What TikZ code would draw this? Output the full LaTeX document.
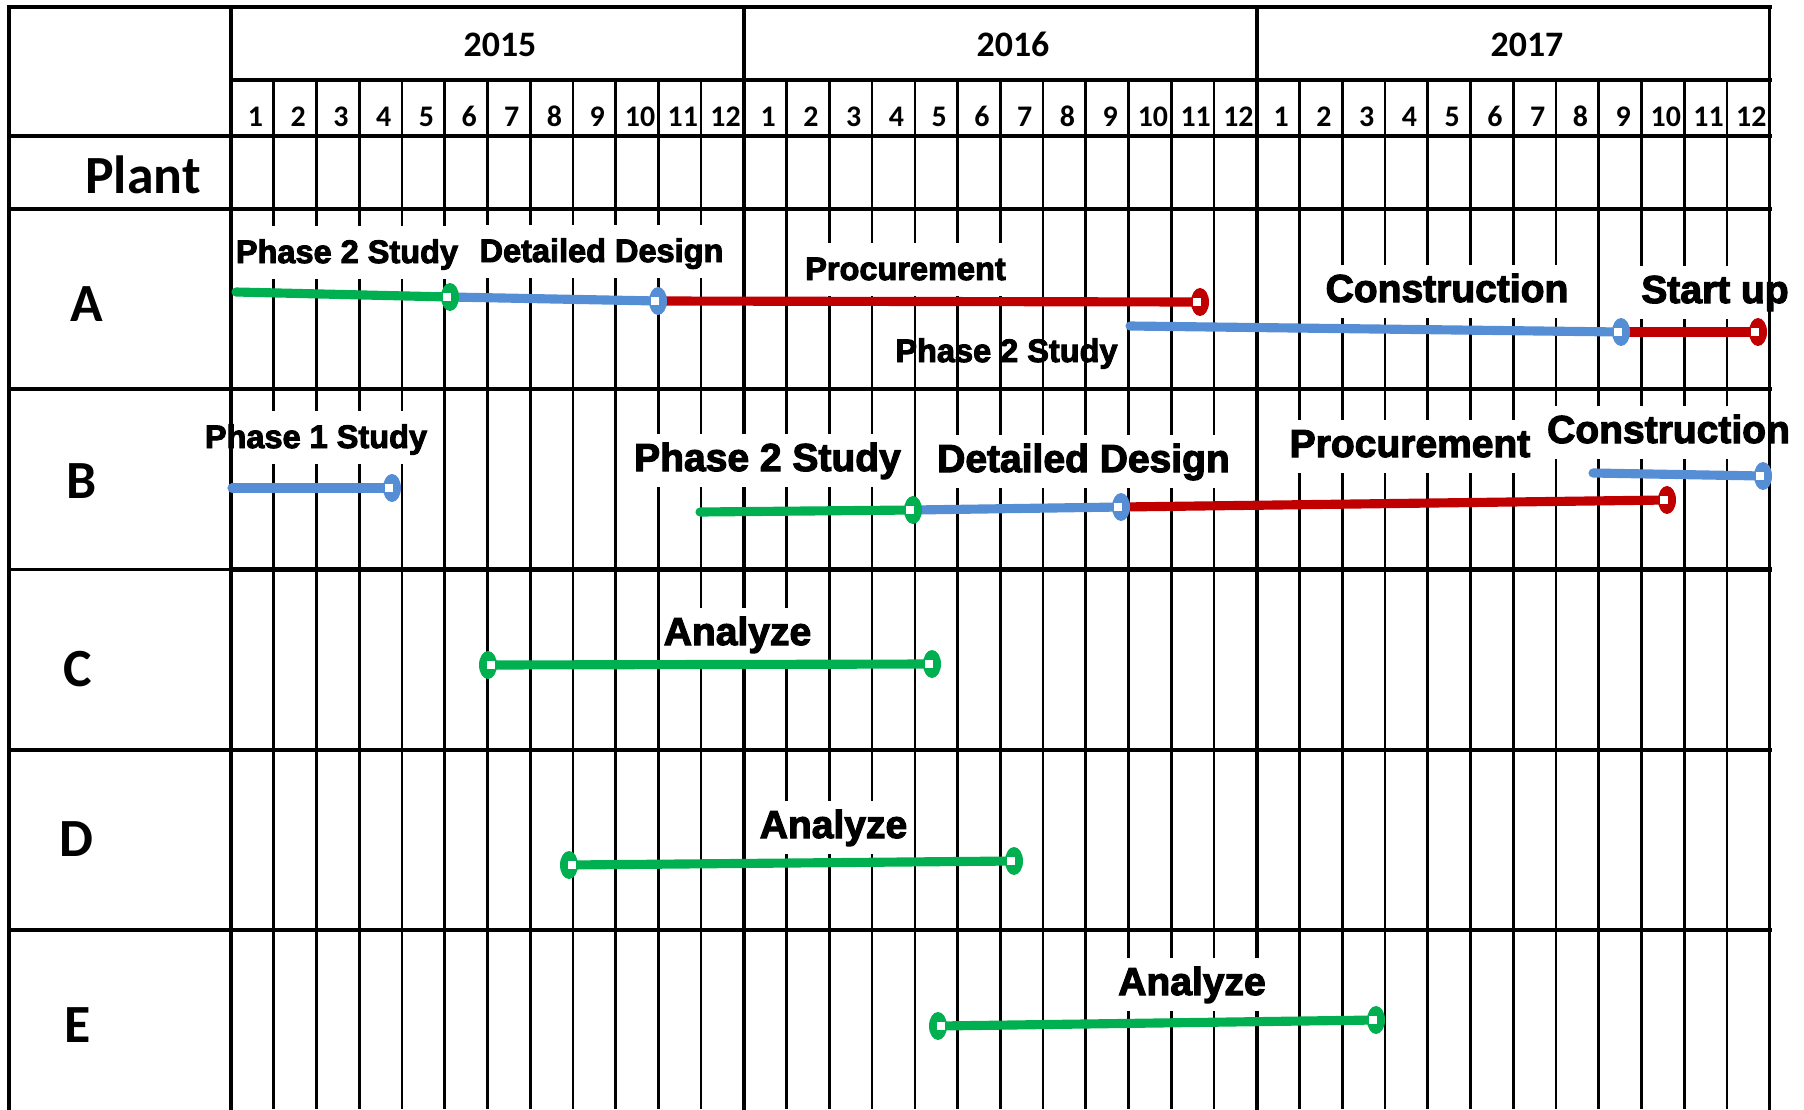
\documentclass[tikz,border=0pt]{standalone}
\usepackage{fontspec}
\setmainfont{Carlito}
\newfontfamily\taskfont{Liberation Sans}[BoldFeatures={FakeBold=3}]
\definecolor{BarGreen}{HTML}{00B050}
\definecolor{BarBlue}{HTML}{558ED5}
\definecolor{BarRed}{HTML}{C00000}

\tikzset{
  monthline/.style={line width=1.5pt},
  rowline/.style={line width=2.3pt, line cap=rect},
  frameline/.style={line width=2pt, line cap=rect},
  yearlabel/.style={font=\bfseries\fontsize{20.4}{22}\selectfont, anchor=base, inner sep=0pt},
  monthlabel/.style={font=\bfseries\fontsize{17}{18}\selectfont, anchor=base, inner sep=0pt},
  plantlabel/.style={font=\bfseries\fontsize{30.6}{32}\selectfont, anchor=base, inner sep=0pt},
  task/.style={font=\taskfont\bfseries\fontsize{18.5}{20}\selectfont, anchor=base,
    fill=white, inner xsep=1pt, inner ysep=4pt, text height=17pt, text depth=5pt},
  bigtask/.style={task, font=\taskfont\bfseries\fontsize{22.2}{24}\selectfont},
  bar/.style={line width=5.2pt, line cap=round},
  mile/.pic={
    \fill (0,0) ellipse [x radius=9, y radius=14];
    \fill[white] (-7,-4) rectangle (1,4);
  }
}

\begin{document}
\begin{tikzpicture}[x=0.02cm, y=-0.02cm]
  \useasboundingbox (0,0) rectangle (1804,1109);

  % Month columns
  \foreach \m in {1,...,35}
    \draw[monthline] ({231+42.74*\m},80) -- ({231+42.74*\m},1109);

  % Rows
  \draw[rowline] (9,7) -- (1769.6,7);
  \draw[rowline] (231,80) -- (1769.6,80);
  \draw[rowline] (9,136) -- (1769.6,136);
  \foreach \y in {209,389,569.5,750,930} {
    \draw[frameline] (9,\y) -- (231,\y);
    \draw[rowline] (231,\y) -- (1769.6,\y);
  }

  % Year columns
  \foreach \m in {12,24}
    \draw[frameline] ({231+42.74*\m},7) -- ({231+42.74*\m},1109);

  % Header
  \node[yearlabel] (y2015) at (500,56) {2015};
  \node[yearlabel] (y2016) at (1013,56) {2016};
  \node[yearlabel] (y2017) at (1527,56) {2017};
  \foreach \yr in {0,1,2}
    \foreach \m in {1,...,12}
      \node[monthlabel] (m\yr-\m) at ({231+42.74*(12*\yr+\m-0.5)+3},126) {\m};

  % Plants
  \node[plantlabel] (plant) at (143,193) {Plant};
  \node[plantlabel] (rowA) at (87,321) {A};
  \node[plantlabel] (rowB) at (81.5,498) {B};
  \node[plantlabel] (rowC) at (77.5,686) {C};
  \node[plantlabel] (rowD) at (76,856) {D};
  \node[plantlabel] (rowE) at (78,1042) {E};

  % Task labels
  \node[task] (tA1) at (347,263) {Phase 2 Study};
  \node[task] (tA2) at (601.5,262) {Detailed Design};
  \node[task] (tA3) at (905.5,280) {Procurement};
  \node[task, fill=none] (tA4) at (1006.5,362) {Phase 2 Study};
  \node[bigtask] (tA5) at (1447,302) {Construction};
  \node[bigtask] (tA6) at (1715,303) {Start up};
  \node[task] (tB1) at (316,448) {Phase 1 Study};
  \node[bigtask] (tB2) at (767.5,471) {Phase 2 Study};
  \node[bigtask] (tB3) at (1083.5,472) {Detailed Design};
  \node[bigtask] (tB4) at (1410,457) {Procurement};
  \node[bigtask] (tB5) at (1668.5,443) {Construction};
  \node[bigtask] (tC) at (737.5,645) {Analyze};
  \node[bigtask] (tD) at (833.5,838) {Analyze};
  \node[bigtask] (tE) at (1192,995) {Analyze};

  % Frame on top
  \draw[frameline] (9,7) -- (9,1109);
  \draw[frameline] (231,7) -- (231,1109);
  \draw[frameline] (1769.6,7) -- (1769.6,1109);

  % Milestones
  \coordinate (a0) at (236,292);
  \coordinate (a1) at (450,297);
  \coordinate (a2) at (658,301);
  \coordinate (a3) at (1200,302);
  \coordinate (a4) at (1130,326);
  \coordinate (a5) at (1621,332);
  \coordinate (a6) at (1758,332);
  \coordinate (b0) at (232,488);
  \coordinate (b1) at (392,488);
  \coordinate (b2) at (700,512);
  \coordinate (b3) at (913,510);
  \coordinate (b4) at (1121,507);
  \coordinate (b5) at (1667,500);
  \coordinate (b6) at (1593,473);
  \coordinate (b7) at (1763,476);
  \coordinate (c0) at (488,665);
  \coordinate (c1) at (932,664);
  \coordinate (d0) at (569,865);
  \coordinate (d1) at (1014,861);
  \coordinate (e0) at (938,1026);
  \coordinate (e1) at (1376,1020);

  % Bars
  \draw[bar, BarGreen] (a0) -- (a1);
  \draw[bar, BarBlue] (a1) -- (a2);
  \draw[bar, BarRed] (a2) -- (a3);
  \draw[bar, BarBlue] (a4) -- (a5);
  \draw[bar, BarRed] (a5) -- (a6);
  \draw[bar, BarBlue] (b0) -- (b1);
  \draw[bar, BarGreen] (b2) -- (b3);
  \draw[bar, BarBlue] (b3) -- (b4);
  \draw[bar, BarRed] (b4) -- (b5);
  \draw[bar, BarBlue] (b6) -- (b7);
  \draw[bar, BarGreen] (c0) -- (c1);
  \draw[bar, BarGreen] (d0) -- (d1);
  \draw[bar, BarGreen] (e0) -- (e1);

  \pic[BarGreen] at (a1) {mile};
  \pic[BarBlue] at (a2) {mile};
  \pic[BarRed] at (a3) {mile};
  \pic[BarBlue] at (a5) {mile};
  \pic[BarRed] at (a6) {mile};
  \pic[BarBlue] at (b1) {mile};
  \pic[BarGreen] at (b3) {mile};
  \pic[BarBlue] at (b4) {mile};
  \pic[BarRed] at (b5) {mile};
  \pic[BarBlue] at (b7) {mile};
  \pic[BarGreen, xscale=-1] at (c0) {mile};
  \pic[BarGreen] at (c1) {mile};
  \pic[BarGreen, xscale=-1] at (d0) {mile};
  \pic[BarGreen] at (d1) {mile};
  \pic[BarGreen, xscale=-1] at (e0) {mile};
  \pic[BarGreen] at (e1) {mile};
\end{tikzpicture}
\end{document}
